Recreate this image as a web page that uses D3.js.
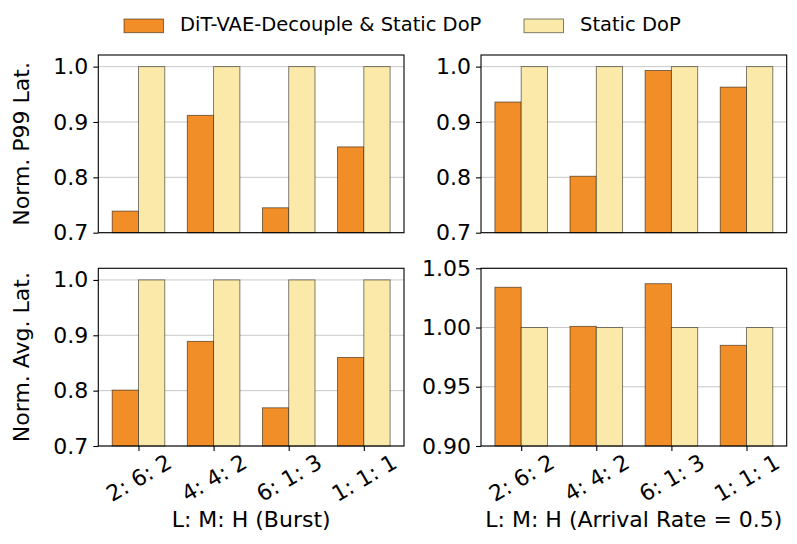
<!DOCTYPE html>
<html>
<head>
<meta charset="utf-8">
<script src="https://cdn.jsdelivr.net/npm/d3@7"></script>
<style>
html,body{margin:0;padding:0;background:#fff;}
svg{display:block;font-family:"DejaVu Sans",sans-serif;}
</style>
</head>
<body>
<svg id="chart" width="797" height="544"></svg>
<script>
const categories = ["2: 6: 2", "4: 4: 2", "6: 1: 3", "1: 1: 1"];
const seriesNames = ["DiT-VAE-Decouple & Static DoP", "Static DoP"];
const p99Burst = [0.739, 0.912, 0.745, 0.855];
const p99Rate = [0.936, 0.802, 0.993, 0.963];
const avgBurst = [0.801, 0.889, 0.769, 0.860];
const avgRate = [1.034, 1.001, 1.037, 0.985];
const staticDoP = [1.0, 1.0, 1.0, 1.0];
const ticksA = [0.7, 0.8, 0.9, 1.0];
const ticksB = [0.90, 0.95, 1.00, 1.05];
const yLabels = ["Norm. P99 Lat.", "Norm. Avg. Lat."];
const xLabels = ["L: M: H (Burst)", "L: M: H (Arrival Rate = 0.5)"];

const colors = ["#f28e27", "#fae9a8"];
const svg = d3.select("#chart");
const FS = 22;

const cols = [{l: 98.3, r: 404}, {l: 481, r: 786.7}];
const rows = [{t: 55, b: 232.7}, {t: 268.3, b: 446}];

const panels = [
  {row: 0, col: 0, vals: p99Burst, dom: [0.7, 1.021], ticks: ticksA, fmt: ".1f"},
  {row: 0, col: 1, vals: p99Rate, dom: [0.7, 1.021], ticks: ticksA, fmt: ".1f"},
  {row: 1, col: 0, vals: avgBurst, dom: [0.7, 1.021], ticks: ticksA, fmt: ".1f"},
  {row: 1, col: 1, vals: avgRate, dom: [0.9, 1.05], ticks: ticksB, fmt: ".2f"}
];

const bw = 0.35;

panels.forEach(p => {
  const c = cols[p.col], r = rows[p.row];
  const x = d3.scaleLinear().domain([-0.535, categories.length - 1 + 0.535]).range([c.l, c.r]);
  const y = d3.scaleLinear().domain(p.dom).range([r.b, r.t]);
  const g = svg.append("g");

  // grid
  g.append("g").selectAll("line").data(p.ticks).join("line")
    .attr("x1", c.l).attr("x2", c.r)
    .attr("y1", d => y(d)).attr("y2", d => y(d))
    .attr("stroke", "#c8c8c8").attr("stroke-width", 1);

  const series = [p.vals, staticDoP];
  series.forEach((vals, si) => {
    g.append("g").selectAll("rect").data(vals).join("rect")
      .attr("x", (d, i) => x(i - bw + si * bw))
      .attr("width", (d, i) => x(i + si * bw) - x(i - bw + si * bw))
      .attr("y", d => y(d))
      .attr("height", d => y(p.dom[0]) - y(d))
      .attr("fill", colors[si])
      .attr("stroke", "#000").attr("stroke-opacity", 0.55).attr("stroke-width", 0.9);
  });

  // y axis
  const ya = d3.axisLeft(y).tickValues(p.ticks).tickFormat(d3.format(p.fmt)).tickSize(5).tickPadding(5);
  const yg = g.append("g").attr("transform", `translate(${c.l},0)`).call(ya);
  yg.select(".domain").remove();
  yg.selectAll("line").attr("stroke", "#000").attr("stroke-width", 1.1);
  yg.selectAll("text").attr("font-size", FS).attr("font-family", "DejaVu Sans").attr("fill", "#000");

  if (p.row === 1) {
    const xa = d3.axisBottom(x).tickValues(d3.range(categories.length)).tickFormat(i => categories[i]).tickSize(5);
    const xg = g.append("g").attr("transform", `translate(0,${r.b})`).call(xa);
    xg.select(".domain").remove();
    xg.selectAll("line").attr("stroke", "#000").attr("stroke-width", 1.1);
    xg.selectAll("text")
      .attr("font-size", FS).attr("font-family", "DejaVu Sans").attr("fill", "#000")
      .attr("y", 0).attr("dy", null)
      .attr("text-anchor", "middle").attr("dominant-baseline", "central")
      .attr("transform", "translate(0,32) rotate(-30)");
    g.append("text")
      .attr("x", (c.l + c.r) / 2).attr("y", 527)
      .attr("text-anchor", "middle").attr("font-size", FS).attr("fill", "#000")
      .text(xLabels[p.col]);
  }

  if (p.col === 0) {
    g.append("text")
      .attr("transform", `translate(28.5,${(r.t + r.b) / 2}) rotate(-90)`)
      .attr("text-anchor", "middle").attr("font-size", FS).attr("fill", "#000")
      .text(yLabels[p.row]);
  }

  // frame
  g.append("rect").attr("x", c.l).attr("y", r.t)
    .attr("width", c.r - c.l).attr("height", r.b - r.t)
    .attr("fill", "none").attr("stroke", "#000").attr("stroke-width", 1.1);
});

// legend
const legX = [124, 524];
const leg = svg.append("g");
seriesNames.forEach((name, i) => {
  leg.append("rect").attr("x", legX[i]).attr("y", 19).attr("width", 39.5).attr("height", 13.7)
    .attr("fill", colors[i]).attr("stroke", "#000").attr("stroke-opacity", 0.55).attr("stroke-width", 0.9);
  leg.append("text").attr("x", legX[i] + 56).attr("y", 31)
    .attr("font-size", 19.5).attr("fill", "#000").text(name);
});
</script>
</body>
</html>
